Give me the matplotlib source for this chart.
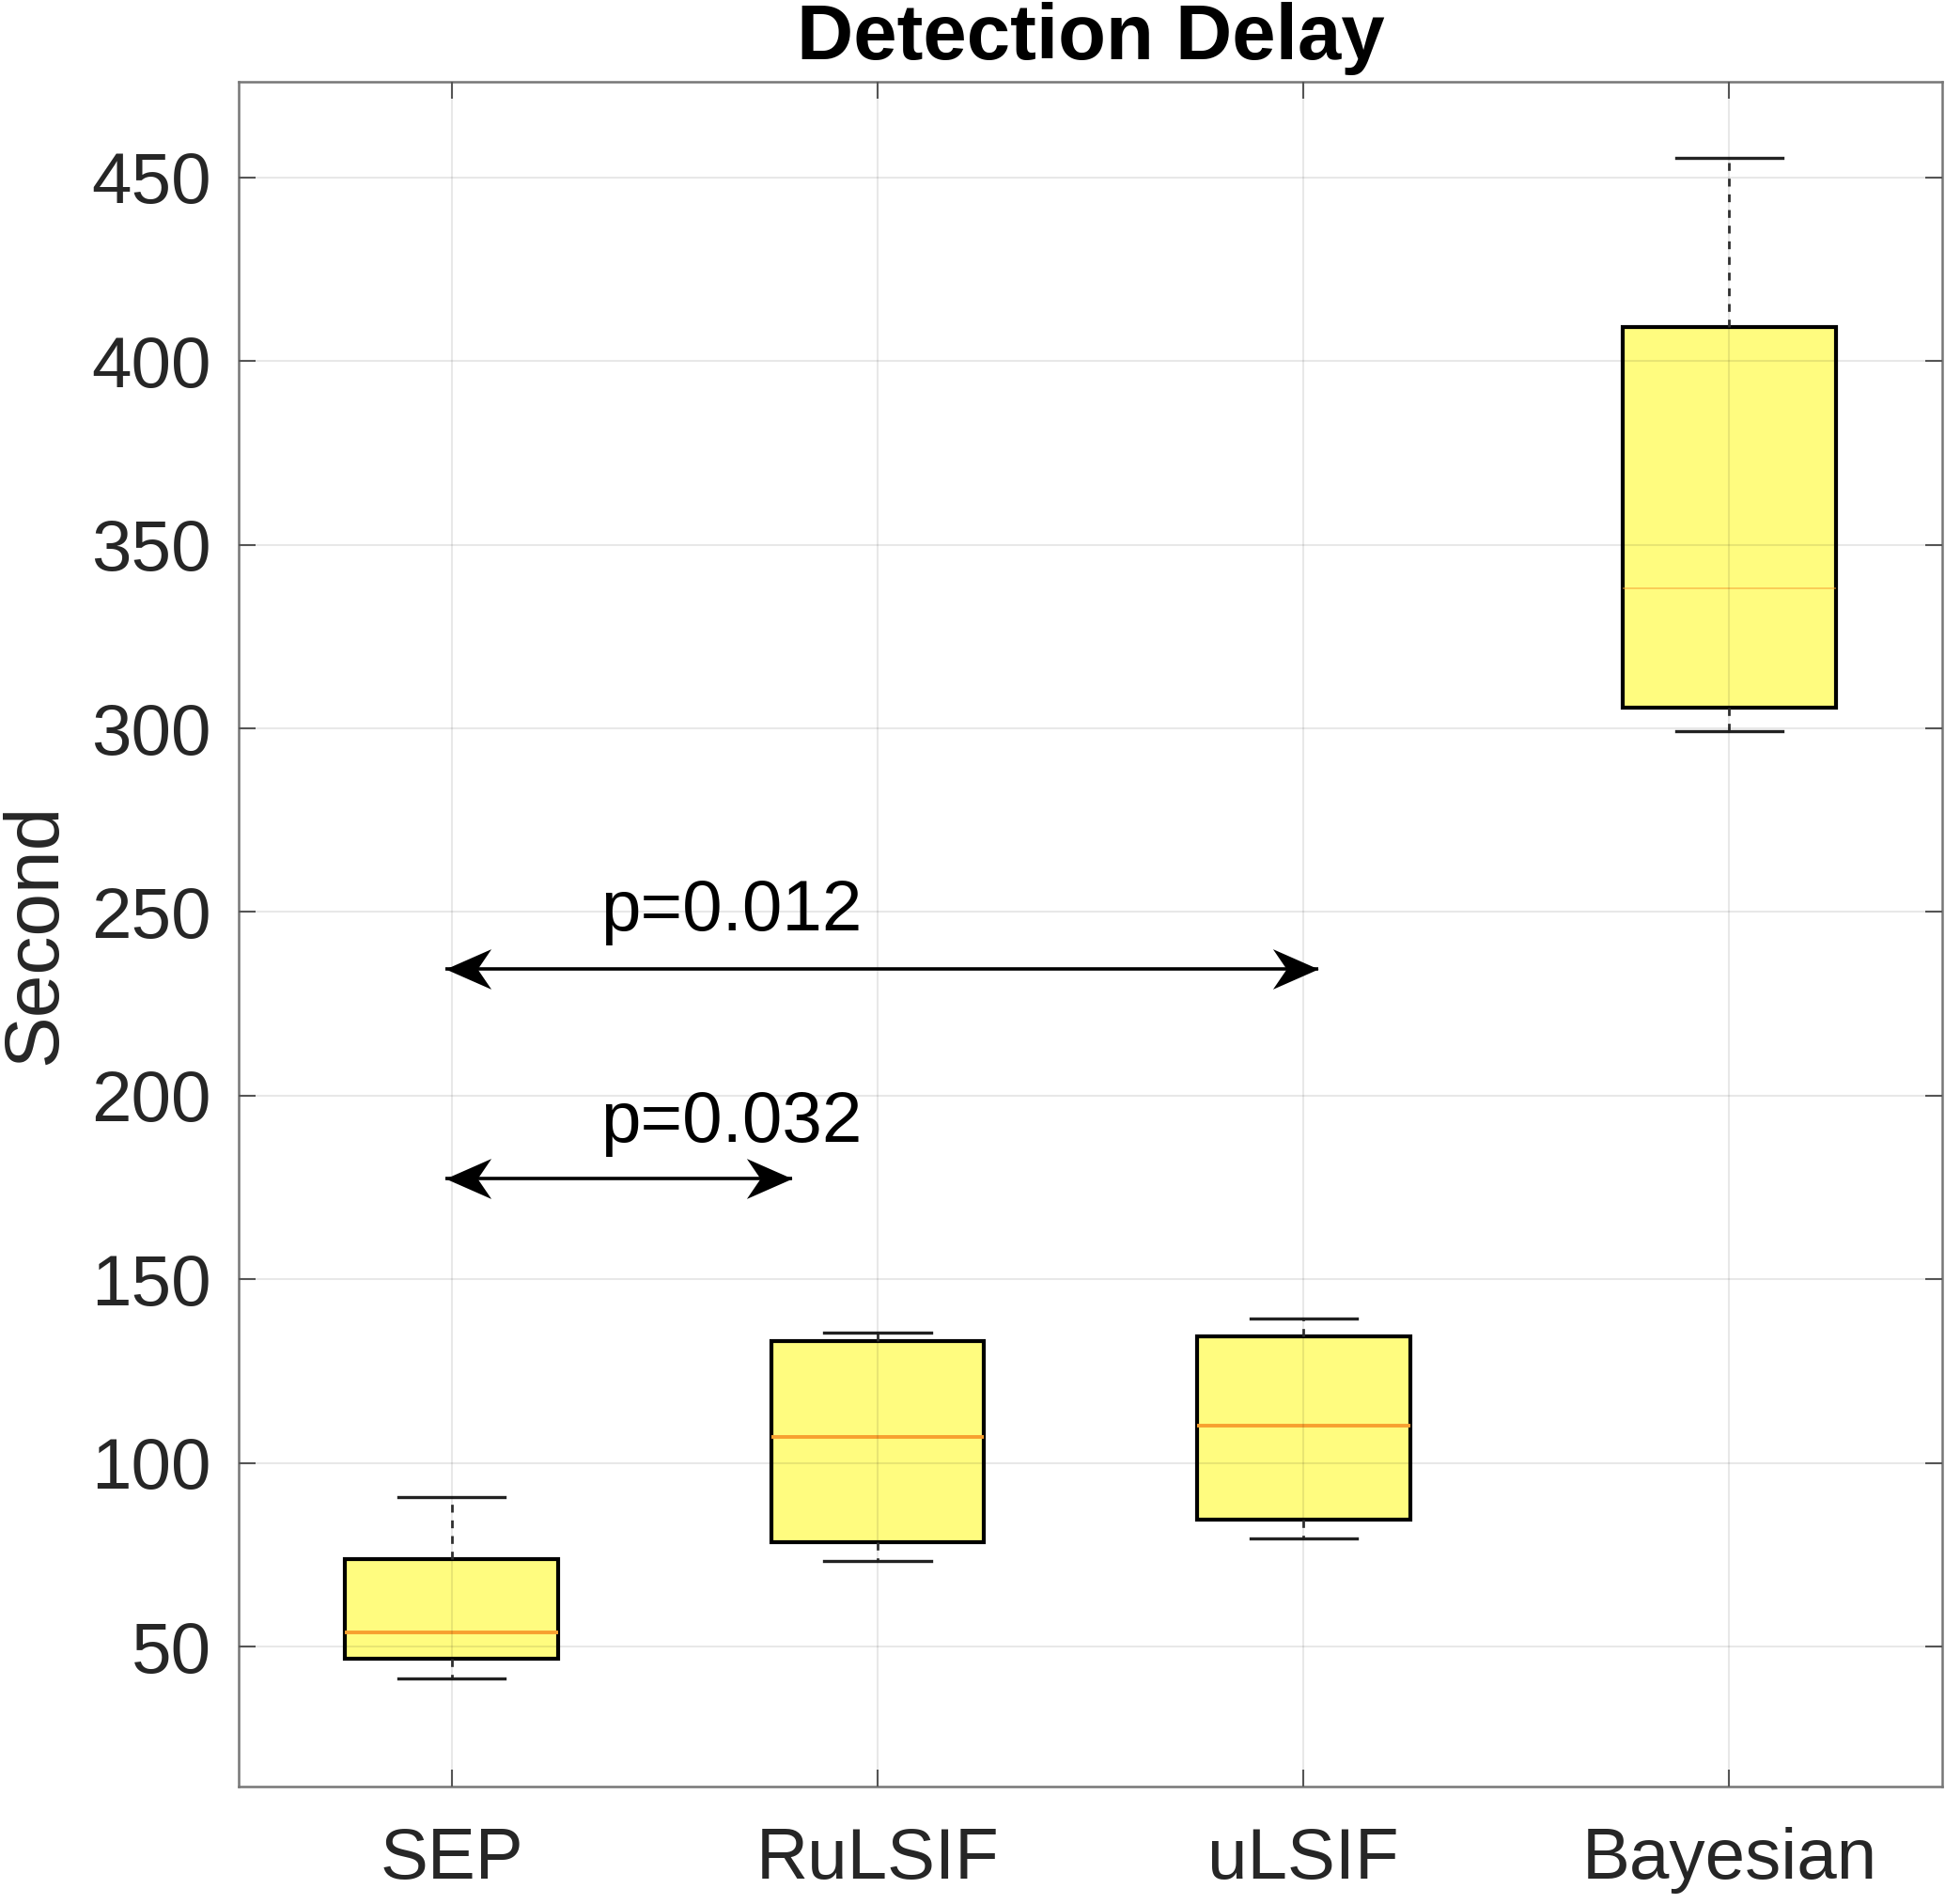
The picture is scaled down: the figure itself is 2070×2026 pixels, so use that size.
import matplotlib
matplotlib.use("Agg")
import matplotlib.pyplot as plt
from matplotlib.path import Path

methods = ["SEP", "RuLSIF", "uLSIF", "Bayesian"]
whis_lo = [41.5, 73.5, 79.6, 299.2]
q1 = [46.8, 78.5, 84.6, 305.7]
median = [54.0, 107.1, 110.1, 338.2]
q3 = [73.9, 133.3, 134.6, 409.3]
whis_hi = [90.9, 135.6, 139.5, 455.2]

# significance arrows: (x start, x end, y, label)
sig_pairs = [(0.986, 3.035, 234.5, "p=0.012"), (0.986, 1.80, 177.5, "p=0.032")]
sig_text_y = [245.0, 187.5]

plt.rcParams["font.family"] = ["Liberation Sans", "DejaVu Sans"]

fig = plt.figure(figsize=(20.70, 20.26), dpi=100)
ax = fig.add_axes([0.1227, 0.0617, 0.9986 - 0.1227, 0.9571 - 0.0617])

stats = []
for i, name in enumerate(methods):
    stats.append(dict(label=name, whislo=whis_lo[i], q1=q1[i], med=median[i],
                      q3=q3[i], whishi=whis_hi[i], fliers=[]))

res = ax.bxp(stats, positions=[1, 2, 3, 4], widths=0.5, patch_artist=True,
             showfliers=False,
             boxprops=dict(facecolor="#fffc7f", edgecolor="black", linewidth=3.0),
             medianprops=dict(color="#f7a030", linewidth=2.8),
             whiskerprops=dict(color="#333333", linewidth=2.0, linestyle=(0, (3, 3))),
             capprops=dict(color="#222222", linewidth=2.4))
res["medians"][3].set_linewidth(1.2)
res["medians"][3].set_alpha(0.6)

# concave arrow heads (tip at origin)
head_r = Path([(0, 0), (-1, 0.44), (-0.7, 0), (-1, -0.44), (0, 0)],
              [Path.MOVETO, Path.LINETO, Path.LINETO, Path.LINETO, Path.CLOSEPOLY])
head_l = Path([(0, 0), (1, 0.44), (0.7, 0), (1, -0.44), (0, 0)],
              [Path.MOVETO, Path.LINETO, Path.LINETO, Path.LINETO, Path.CLOSEPOLY])

for (x0, x1, y, lab), ty in zip(sig_pairs, sig_text_y):
    ax.plot([x0, x1], [y, y], color="black", linewidth=2.6, solid_capstyle="butt")
    ax.plot([x0], [y], marker=head_l, markersize=70, color="black", markeredgewidth=0)
    ax.plot([x1], [y], marker=head_r, markersize=70, color="black", markeredgewidth=0)
    ax.text(1.657, ty, lab, ha="center", va="baseline", fontsize=55, color="black")

ax.set_xlim(0.5, 4.5)
ax.set_ylim(12, 476)
ax.set_yticks([50, 100, 150, 200, 250, 300, 350, 400, 450])
ax.set_xticks([1, 2, 3, 4])
ax.set_xticklabels(methods)

ax.grid(True, color="black", alpha=0.09, linewidth=1.5)
ax.set_axisbelow(False)

ax.tick_params(axis="both", direction="in", length=13, width=1.5, color="#555555",
               labelsize=55, labelcolor="#262626", top=True, right=True)
ax.tick_params(axis="y", pad=21)
ax.tick_params(axis="x", pad=31)
for s in ax.spines.values():
    s.set_color("#777777")
    s.set_linewidth(1.8)

ax.set_ylabel("Second", fontsize=59, color="#262626")
ax.yaxis.set_label_coords(-0.098, 0.5)
ax.set_title("Detection Delay", fontsize=60, fontweight="bold", pad=17)

fig.savefig("out.png", dpi=100)
